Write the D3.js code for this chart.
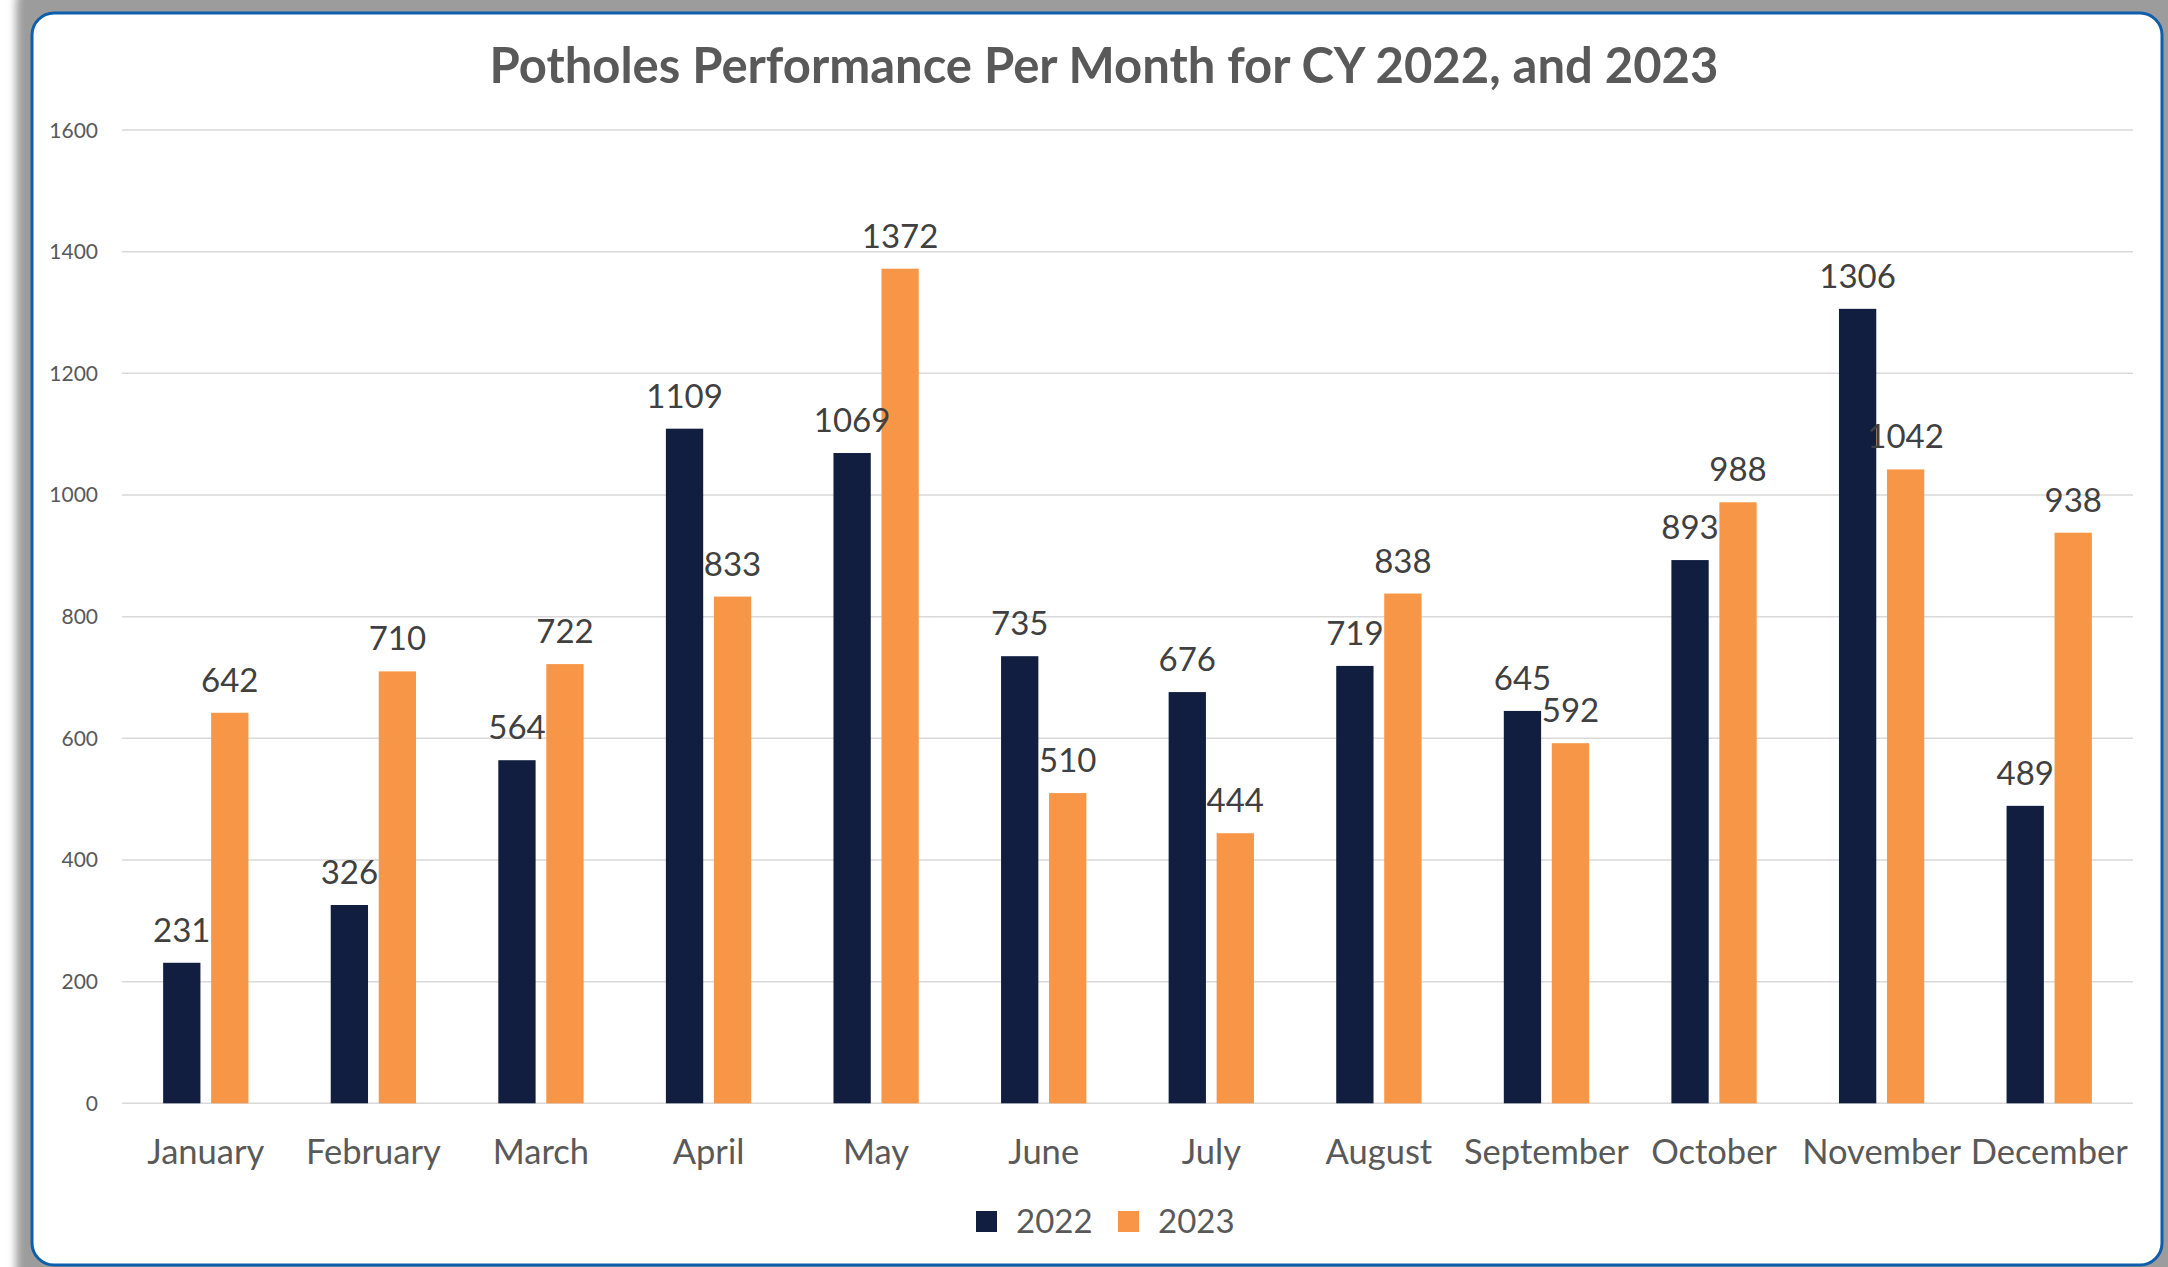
<!DOCTYPE html>
<html>
<head>
<meta charset="utf-8">
<script src="https://cdn.jsdelivr.net/npm/d3@7"></script>
<style>
  body { margin: 0; background: #fff; }
  svg { display: block; }
  text { font-family: Lato, "Open Sans", sans-serif; }
</style>
</head>
<body>
<svg id="chart" width="2168" height="1267"></svg>
<script>
// chart data
var months = ["January", "February", "March", "April", "May", "June", "July",
              "August", "September", "October", "November", "December"];
var series = ["2022", "2023"];
var values2022 = [231, 326, 564, 1109, 1069, 735, 676, 719, 645, 893, 1306, 489];
var values2023 = [642, 710, 722, 833, 1372, 510, 444, 838, 592, 988, 1042, 938];
var yTicks = [0, 200, 400, 600, 800, 1000, 1200, 1400, 1600];
var colors = ["#111e40", "#f79646"];

var svg = d3.select("#chart"),
    width = +svg.attr("width"),
    height = +svg.attr("height");

// frame with grey shadow behind
var defs = svg.append("defs");
defs.append("filter").attr("id", "blur")
  .attr("x", "-5%").attr("y", "-5%").attr("width", "110%").attr("height", "110%")
  .append("feGaussianBlur").attr("stdDeviation", 4);

svg.append("rect")
  .attr("x", 16).attr("y", -20)
  .attr("width", 2170).attr("height", 1320)
  .attr("rx", 24)
  .attr("fill", "#9c9c9c")
  .attr("filter", "url(#blur)");

svg.append("rect")
  .attr("x", 32).attr("y", 13)
  .attr("width", 2130).attr("height", 1252)
  .attr("rx", 22)
  .attr("fill", "#fff")
  .attr("stroke", "#0e5fab")
  .attr("stroke-width", 3);

// scales
var x0 = d3.scaleBand().domain(months).range([122, 2133]);
var inner = 85.3, off = (x0.bandwidth() - inner) / 2;
var x1 = d3.scaleBand().domain(series).range([off, off + inner]).paddingInner(0.223);
var y = d3.scaleLinear().domain([0, 1600]).range([1103.3, 130]);

// gridlines
svg.append("g")
  .selectAll("line")
  .data(yTicks)
  .enter().append("line")
  .attr("x1", 122).attr("x2", 2133)
  .attr("y1", function(d) { return y(d); })
  .attr("y2", function(d) { return y(d); })
  .attr("stroke", "#d9d9d9")
  .attr("stroke-width", 1.5);

// y axis labels
svg.append("g")
  .selectAll("text")
  .data(yTicks)
  .enter().append("text")
  .attr("x", 98)
  .attr("y", function(d) { return y(d) + 7.5; })
  .attr("text-anchor", "end")
  .attr("font-size", 21)
  .attr("fill", "#595959")
  .text(function(d) { return d; });

// bars
var rows = months.map(function(m, i) {
  return { month: m, vals: [
    { key: "2022", value: values2022[i], color: colors[0] },
    { key: "2023", value: values2023[i], color: colors[1] }
  ]};
});

var groups = svg.append("g")
  .selectAll("g")
  .data(rows)
  .enter().append("g")
  .attr("transform", function(d) { return "translate(" + x0(d.month) + ",0)"; });

groups.selectAll("rect")
  .data(function(d) { return d.vals; })
  .enter().append("rect")
  .attr("x", function(d) { return x1(d.key); })
  .attr("y", function(d) { return y(d.value); })
  .attr("width", x1.bandwidth())
  .attr("height", function(d) { return y(0) - y(d.value); })
  .attr("fill", function(d) { return d.color; });

groups.selectAll("text")
  .data(function(d) { return d.vals; })
  .enter().append("text")
  .attr("x", function(d) { return x1(d.key) + x1.bandwidth() / 2; })
  .attr("y", function(d) { return y(d.value) - 21; })
  .attr("text-anchor", "middle")
  .attr("font-size", 33)
  .attr("fill", "#404040")
  .text(function(d) { return d.value; });

// month labels
svg.append("g")
  .selectAll("text")
  .data(months)
  .enter().append("text")
  .attr("x", function(d) { return x0(d) + x0.bandwidth() / 2; })
  .attr("y", 1164)
  .attr("text-anchor", "middle")
  .attr("font-size", 34.5)
  .attr("fill", "#595959")
  .text(function(d) { return d; });

// title
svg.append("text")
  .attr("x", 1104)
  .attr("y", 83)
  .attr("text-anchor", "middle")
  .attr("font-size", 49)
  .attr("font-weight", "bold")
  .attr("fill", "#595959")
  .text("Potholes Performance Per Month for CY 2022, and 2023");

// legend
var legend = svg.append("g")
  .selectAll("g")
  .data(series)
  .enter().append("g")
  .attr("transform", function(d, i) { return "translate(" + (976 + i * 142) + ",1211)"; });

legend.append("rect")
  .attr("width", 21).attr("height", 21)
  .attr("fill", function(d, i) { return colors[i]; });

legend.append("text")
  .attr("x", 40).attr("y", 21.5)
  .attr("font-size", 33)
  .attr("fill", "#595959")
  .text(function(d) { return d; });
</script>
</body>
</html>
